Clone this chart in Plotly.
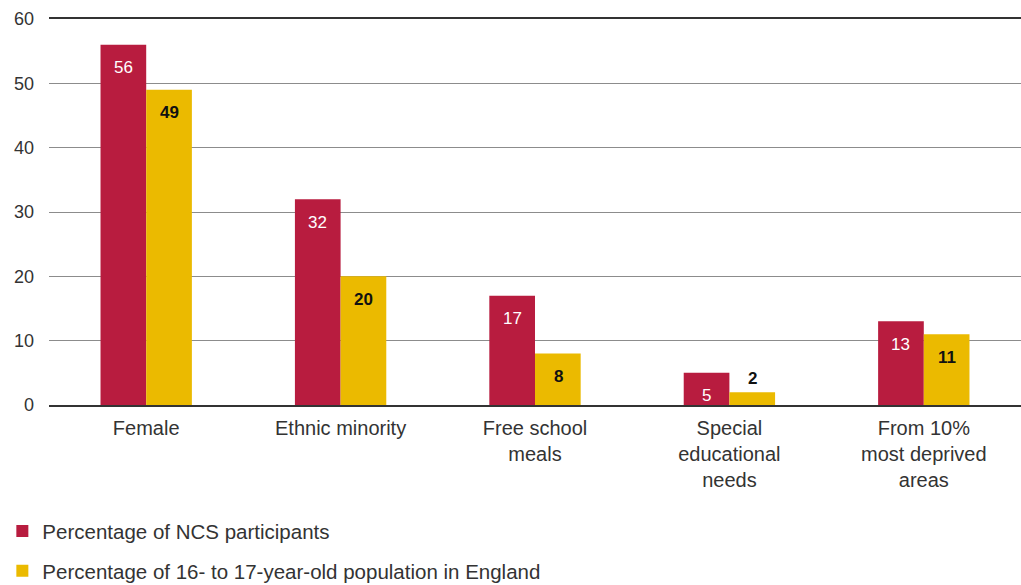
import plotly.graph_objects as go

categories = ["Female", "Ethnic minority", "Free school<br>meals",
              "Special<br>educational<br>needs", "From 10%<br>most deprived<br>areas"]
ncs_values = [56, 32, 17, 5, 13]
pop_values = [49, 20, 8, 2, 11]
series_names = ["Percentage of NCS participants",
                "Percentage of 16- to 17-year-old population in England"]
y_ticks = [0, 10, 20, 30, 40, 50, 60]

RED = "#B81C3F"
GOLD = "#EBBA00"
FONT = "Liberation Sans, Arial, sans-serif"

fig = go.Figure()
fig.add_trace(go.Bar(x=categories, y=ncs_values, name=series_names[0],
                     marker=dict(color=RED, line=dict(width=0)),
                     legendgroup="a"))
fig.add_trace(go.Bar(x=categories, y=pop_values, name=series_names[1],
                     marker=dict(color=GOLD, line=dict(width=0)),
                     legendgroup="b"))

BAR_HALF = 23
for v, c in zip(ncs_values, categories):
    fig.add_annotation(x=c, y=v, xshift=-BAR_HALF, yshift=-23, text=str(v),
                       showarrow=False, font=dict(family=FONT, size=17, color="white"))
for v, c in zip(pop_values, categories):
    inside = v >= 5
    fig.add_annotation(x=c, y=v, xshift=BAR_HALF, yshift=-23 if inside else 14,
                       text="<b>%d</b>" % v, showarrow=False,
                       font=dict(family=FONT, size=17, color="#111111"))

fig.update_layout(
    width=1021, height=585,
    margin=dict(l=49, r=0, t=19, b=180, autoexpand=False),
    paper_bgcolor="white", plot_bgcolor="white",
    barmode="group", bargap=0.53, bargroupgap=0,
    font=dict(family=FONT, color="#333333"),
    showlegend=True,
    legend=dict(orientation="v", xref="paper", yref="paper",
                x=-0.048, y=-0.275, xanchor="left", yanchor="top",
                font=dict(family=FONT, size=20.5, color="#333333"),
                traceorder="grouped", tracegroupgap=10,
                itemwidth=30, bgcolor="rgba(0,0,0,0)"),
    xaxis=dict(showline=True, linecolor="#333333", linewidth=1.5, mirror=True,
               ticks="", tickangle=0, ticklabelstandoff=4,
               tickfont=dict(family=FONT, size=20, color="#333333"),
               showgrid=False),
    yaxis=dict(range=[0, 60], tickvals=y_ticks, showgrid=True,
               gridcolor="#8c8c8c", gridwidth=1, zeroline=False,
               ticks="", tickfont=dict(family=FONT, size=18, color="#333333"),
               ticklabelstandoff=14),
)

fig.write_html("out.html", config={"displayModeBar": False},
               post_script="document.body.style.margin='0';")
